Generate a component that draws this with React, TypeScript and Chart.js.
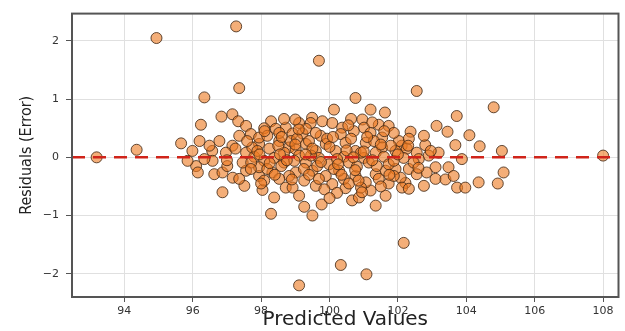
import React, { useEffect, useRef } from "react";
import { Chart, registerables } from "chart.js";

Chart.register(...registerables);

const PREDICTED: number[] = [
  93.19, 94.36, 94.94, 97.27, 97.36, 96.34, 99.69, 100.76, 102.55, 104.8, 108.0, 99.11, 100.33, 101.08, 102.17,
  95.66, 96.24, 96.84, 97.16, 97.33, 97.56, 97.36, 97.7, 98.29, 98.09, 98.43, 98.72, 96.78, 97.16, 95.99, 97.94, 98.53, 98.24, 96.57, 97.56,
  98.82, 99.49, 100.13, 101.2, 101.62, 100.96, 101.44, 103.72, 102.37, 103.45, 104.09, 102.8, 103.68, 104.39, 105.04, 102.11, 102.26, 99.45, 99.79, 100.08,
  100.37, 101.01, 101.73, 98.92, 99.21, 99.74, 100.33, 100.71, 101.2, 101.54, 102.03, 99.31, 99.89, 100.47, 101.06, 101.54, 99.01, 99.6, 100.18, 100.76,
  101.35, 101.93, 98.87, 98.53, 99.31, 97.94, 99.4, 97.74, 96.97, 102.55, 103.19, 102.9,
  97.8, 98.38, 99.11, 99.69, 100.42, 101.01, 101.59, 102.17, 98.09, 98.67,
  96.1, 96.15, 96.63, 96.87, 97.17, 97.51, 98.04, 98.38, 98.29, 98.72, 99.26, 99.5, 99.77, 99.6, 100.66, 100.47, 96.58, 97.56, 97.94, 99.26,
  96.87, 97.46, 97.94, 98.33, 102.32, 102.55, 102.22, 103.1, 103.48, 103.1, 103.39, 103.63, 103.73, 103.97, 104.36, 104.92, 105.09, 102.08, 103.87, 101.64,
  101.35, 100.86, 101.2, 101.73, 101.93, 100.08, 100.42, 101.06, 102.12, 99.89, 100.76, 101.35, 99.01, 99.5, 100.28, 101.64, 99.31, 99.99, 100.57, 101.15,
  101.73, 98.92,
  97.59, 97.89, 98.18, 98.67, 99.05, 99.46, 99.93, 100.22, 100.63, 100.92, 101.3, 101.79, 102.32, 102.61, 102.96, 97.71, 98.18, 98.59, 98.97, 99.64,
  100.13, 100.8, 101.38, 101.88, 102.46, 102.84, 97.36, 98.82, 99.69, 100.57, 101.44, 102.32, 102.76, 97.01, 96.34, 95.85, 96.49, 96.2, 98.67, 99.11,
  100.63, 101.88, 102.76, 103.13, 98.09, 98.53, 100.22, 99.11, 100.92, 101.88,
  97.95, 98.25, 98.5, 98.75, 99.0, 99.25, 99.5, 99.75, 100.0, 100.25, 100.5, 100.75, 101.0, 101.25, 101.5, 101.75, 102.0, 98.1, 98.6, 99.1,
  99.6, 100.1, 100.55, 101.1, 101.6, 98.4, 98.9, 99.4, 99.85, 100.35, 100.85, 101.5, 97.7, 97.25, 97.0, 102.3, 102.6, 101.25, 99.0, 98.0,
  100.0, 100.95, 99.3, 100.7, 98.55,
];

const RESIDUALS: number[] = [
  0.0, 0.13, 2.05, 2.25, 1.19, 1.03, 1.66, 1.02, 1.14, 0.86, 0.03, -2.2, -1.85, -2.01, -1.47,
  0.24, 0.56, 0.7, 0.74, 0.62, 0.54, 0.37, 0.4, 0.62, 0.5, 0.49, 0.51, 0.28, 0.2, 0.11, 0.23, 0.28, 0.15, 0.11, 0.08,
  0.17, 0.68, 0.82, 0.82, 0.77, 0.65, 0.56, 0.71, 0.44, 0.44, 0.38, 0.21, 0.21, 0.19, 0.11, 0.2, 0.15, 0.59, 0.62, 0.59,
  0.51, 0.51, 0.54, 0.41, 0.41, 0.37, 0.4, 0.45, 0.42, 0.34, 0.28, 0.23, 0.23, 0.25, 0.25, 0.17, 0.14, 0.11, 0.11, 0.11,
  0.08, 0.11, 0.28, 0.42, 0.49, 0.34, 0.28, 0.17, 0.08, 0.08, 0.08, 0.03,
  0.01, -0.01, 0.03, -0.01, 0.01, -0.01, 0.01, -0.01, -0.06, -0.09,
  -0.15, -0.26, -0.29, -0.6, -0.35, -0.49, -0.56, -0.69, -0.97, -0.52, -0.85, -1.0, -0.81, -0.49, -0.74, -0.53, -0.06, -0.23, -0.32, -0.4,
  -0.26, -0.09, -0.17, -0.26, -0.2, -0.29, -0.44, -0.17, -0.17, -0.37, -0.38, -0.32, -0.52, -0.52, -0.43, -0.45, -0.26, -0.35, -0.03, -0.66,
  -0.83, -0.69, -0.57, -0.45, -0.2, -0.46, -0.37, -0.43, -0.52, -0.32, -0.32, -0.29, -0.26, -0.23, -0.23, -0.23, -0.09, -0.12, -0.09, -0.09,
  -0.12, -0.52,
  0.28, 0.11, 0.37, 0.08, 0.32, 0.03, 0.32, -0.03, 0.32, 0.08, 0.28, 0.2, 0.32, -0.03, 0.11, -0.09, -0.2, -0.15, -0.06, -0.15,
  -0.2, -0.16, -0.15, -0.06, -0.09, -0.26, -0.37, -0.32, -0.37, -0.45, -0.37, -0.54, -0.49, -0.15, -0.03, -0.06, 0.2, 0.28, 0.66, 0.59,
  0.66, 0.42, 0.37, 0.54, -0.4, -0.37, -0.61, -0.66, -0.52, -0.32,
  0.05, -0.1, 0.2, -0.05, 0.22, -0.2, 0.15, -0.08, 0.18, -0.12, 0.12, -0.22, 0.1, -0.05, 0.22, -0.3, 0.05, 0.45, 0.35, 0.48,
  0.42, 0.35, 0.55, 0.35, 0.45, -0.3, -0.38, -0.3, -0.55, -0.3, -0.4, -0.5, -0.2, 0.15, -0.05, 0.2, -0.18, 0.6, 0.65, -0.45,
  -0.7, -0.6, 0.05, 0.0, 0.05,
];

const X_TICKS: number[] = [94, 96, 98, 100, 102, 104, 106, 108];
const Y_TICKS: number[] = [-2, -1, 0, 1, 2];
const X_MIN = 92.47;
const X_MAX = 108.45;
const Y_MIN = -2.4;
const Y_MAX = 2.47;
const ZERO_LINE = 0;

const boxPlugin = {
  id: "boxSpines",
  afterDraw(chart: any) {
    const { ctx, chartArea } = chart;
    ctx.save();
    ctx.strokeStyle = "#555";
    ctx.lineWidth = 2;
    ctx.strokeRect(chartArea.left, chartArea.top, chartArea.right - chartArea.left, chartArea.bottom - chartArea.top);
    ctx.restore();
  },
};

export default function App() {
  const ref = useRef<HTMLCanvasElement | null>(null);

  useEffect(() => {
    if (!ref.current) return;
    const points = PREDICTED.map((x, i) => ({ x, y: RESIDUALS[i] }));
    const chart = new Chart(ref.current, {
      type: "scatter",
      data: {
        datasets: [
          {
            type: "line",
            label: "zero",
            data: [
              { x: X_MIN, y: ZERO_LINE },
              { x: X_MAX, y: ZERO_LINE },
            ],
            borderColor: "#d0241a",
            borderWidth: 2.5,
            borderDash: [13, 8],
            pointRadius: 0,
            fill: false,
            order: 0,
          } as any,
          {
            label: "residuals",
            data: points,
            backgroundColor: "rgba(236,120,30,0.6)",
            borderColor: "rgba(70,45,25,0.85)",
            borderWidth: 1,
            pointRadius: 5.5,
            order: 1,
          },
        ],
      },
      options: {
        animation: false,
        responsive: true,
        maintainAspectRatio: false,
        layout: { padding: { left: 0, top: 12, right: 5, bottom: 0 } },
        plugins: { legend: { display: false }, tooltip: { enabled: false } },
        scales: {
          x: {
            type: "linear",
            min: X_MIN,
            max: X_MAX,
            afterFit: (s: any) => {
              s.height = 34;
            },
            afterBuildTicks: (s: any) => {
              s.ticks = X_TICKS.map((v) => ({ value: v }));
            },
            grid: { color: "#e0e0e0", lineWidth: 1, tickLength: 5, tickColor: "#555", drawTicks: true },
            border: { display: false },
            ticks: {
              color: "#333",
              padding: 3,
              maxRotation: 0,
              font: { family: "DejaVu Sans", size: 11 },
              callback: (v: any) => String(v),
            },
            title: {
              display: true,
              text: "Predicted Values",
              color: "#222",
              font: { family: "DejaVu Sans", size: 20 },
              padding: { top: 0, bottom: -1 },
            },
          },
          y: {
            type: "linear",
            min: Y_MIN,
            max: Y_MAX,
            afterFit: (s: any) => {
              s.width = 72;
            },
            afterBuildTicks: (s: any) => {
              s.ticks = Y_TICKS.map((v) => ({ value: v }));
            },
            grid: { color: "#e0e0e0", lineWidth: 1, tickLength: 6, tickColor: "#555", drawTicks: true },
            border: { display: false },
            ticks: {
              color: "#333",
              padding: 7,
              font: { family: "DejaVu Sans", size: 11 },
              callback: (v: any) => String(v).replace("-", "\u2212"),
            },
            title: {
              display: true,
              text: "Residuals (Error)",
              color: "#222",
              font: { family: "'DejaVu Sans Condensed', 'Liberation Sans Narrow', 'DejaVu Sans'", size: 16 },
              padding: { top: 17, bottom: 0 },
            },
          },
        },
      },
      plugins: [boxPlugin],
    });
    return () => chart.destroy();
  }, []);

  return (
    <div style={{ position: "fixed", left: 0, top: 0, width: 625, height: 331, background: "#fff" }}>
      <canvas ref={ref} />
    </div>
  );
}
